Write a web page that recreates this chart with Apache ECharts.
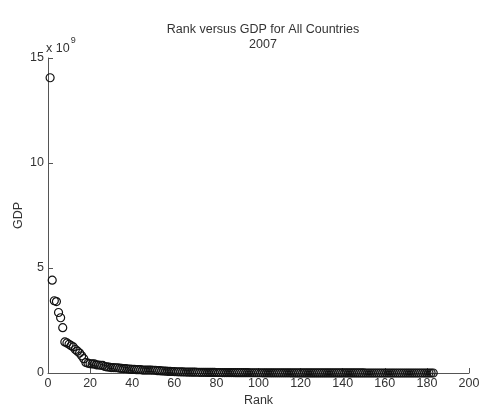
<!DOCTYPE html>
<html><head><meta charset="utf-8">
<script src="https://cdn.jsdelivr.net/npm/echarts@6/dist/echarts.min.js"></script>
<style>html,body{margin:0;padding:0;background:#fff}#c{width:483px;height:412px}</style>
</head><body><div id="c"></div>
<script>
const titleLines = ["Rank versus GDP for All Countries", "2007"];
const xLabel = "Rank";
const yLabel = "GDP";
const xTicks = [0, 20, 40, 60, 80, 100, 120, 140, 160, 180, 200];
const yTicks = [0, 5, 10, 15];
// GDP in units of 10^9 (as plotted), ordered by rank 1..183
const gdp = [
14.06,4.42,3.44,3.40,2.88,2.63,2.16,1.48,1.43,1.37,
1.30,1.24,1.12,1.04,0.95,0.82,0.68,0.50,0.47,0.44,
0.43,0.43,0.39,0.38,0.37,0.36,0.31,0.29,0.28,0.26,
0.26,0.25,0.25,0.23,0.22,0.21,0.21,0.19,0.18,0.17,
0.17,0.16,0.16,0.16,0.14,0.14,0.14,0.14,0.14,0.13,
0.13,0.11,0.11,0.10,0.095,0.085,0.08,0.075,0.071,0.068,
0.06,0.058,0.055,0.05,0.047,0.045,0.042,0.04,0.038,0.037,
0.035,0.034,0.032,0.031,0.030,0.029,0.028,0.027,0.026,0.025,
0.024,0.023,0.022,0.021,0.020,0.020,0.019,0.018,0.017,0.017,
0.016,0.015,0.015,0.014,0.014,0.013,0.013,0.012,0.012,0.011,
0.011,0.010,0.010,0.0095,0.0090,0.0088,0.0085,0.0080,0.0078,0.0075,
0.0072,0.0070,0.0068,0.0065,0.0062,0.0060,0.0058,0.0055,0.0053,0.0050,
0.0048,0.0046,0.0044,0.0042,0.0040,0.0038,0.0036,0.0035,0.0034,0.0032,
0.0031,0.0030,0.0028,0.0027,0.0026,0.0025,0.0024,0.0023,0.0022,0.0021,
0.0020,0.0019,0.0018,0.0017,0.0016,0.0015,0.0014,0.0013,0.0012,0.0012,
0.0011,0.0010,0.0010,0.0009,0.0009,0.0008,0.0008,0.0007,0.0007,0.0006,
0.0006,0.0006,0.0005,0.0005,0.0005,0.0004,0.0004,0.0004,0.0004,0.0003,
0.0003,0.0003,0.0003,0.0002,0.0002,0.0002,0.0002,0.0002,0.0001,0.0001,
0.0001,0.0001,0.0001
];
const points = gdp.map((v, i) => [i + 1, v]);
const font = "'Liberation Sans', Arial, sans-serif";
const axisCol = '#555';
const txtCol = '#333';

const chart = echarts.init(document.getElementById('c'), null, {renderer: 'canvas'});
chart.setOption({
  animation: false,
  backgroundColor: '#fff',
  title: [{
    text: titleLines.join('\n'),
    left: 258, top: 17, textAlign: 'center',
    textStyle: {fontFamily: font, fontSize: 12.5, fontWeight: 'normal', color: txtCol, lineHeight: 15}
  }],
  graphic: [{
    type: 'text', left: 46, top: 36,
    style: {
      text: '{a|x 10}{b|9}',
      rich: {
        a: {fontFamily: font, fontSize: 12.5, fill: txtCol, verticalAlign: 'bottom', padding: [6,0,0,0]},
        b: {fontFamily: font, fontSize: 9, fill: txtCol, verticalAlign: 'top', padding: [0,0,6,1]}
      }
    }
  }],
  grid: {left: 48, right: 14, top: 58, bottom: 36, containLabel: false},
  xAxis: {
    type: 'value', min: 0, max: 200, interval: 20,
    name: xLabel, nameLocation: 'middle', nameGap: 21, nameMoveOverlap: false,
    nameTextStyle: {fontFamily: font, fontSize: 12.5, color: txtCol},
    axisLine: {show: true, onZero: false, lineStyle: {color: axisCol, width: 1}},
    axisTick: {show: true, inside: true, length: 5, lineStyle: {color: axisCol}},
    axisLabel: {fontFamily: font, fontSize: 12.5, color: txtCol, margin: 4,
      formatter: v => xTicks.includes(v) ? String(v) : ''},
    splitLine: {show: false}
  },
  yAxis: {
    type: 'value', min: 0, max: 15, interval: 5,
    name: yLabel, nameLocation: 'middle', nameGap: 23, nameRotate: 90, nameMoveOverlap: false,
    nameTextStyle: {fontFamily: font, fontSize: 12.5, color: txtCol},
    axisLine: {show: true, onZero: false, lineStyle: {color: axisCol, width: 1}},
    axisTick: {show: true, inside: true, length: 5, lineStyle: {color: axisCol}},
    axisLabel: {fontFamily: font, fontSize: 12.5, color: txtCol, margin: 4,
      formatter: v => yTicks.includes(v) ? String(v) : ''},
    splitLine: {show: false}
  },
  series: [{
    type: 'scatter',
    data: points,
    symbol: 'circle',
    symbolSize: 8,
    itemStyle: {color: 'rgba(0,0,0,0)', borderColor: '#111', borderWidth: 1.2, opacity: 1},
    clip: false
  }]
});
</script></body></html>
